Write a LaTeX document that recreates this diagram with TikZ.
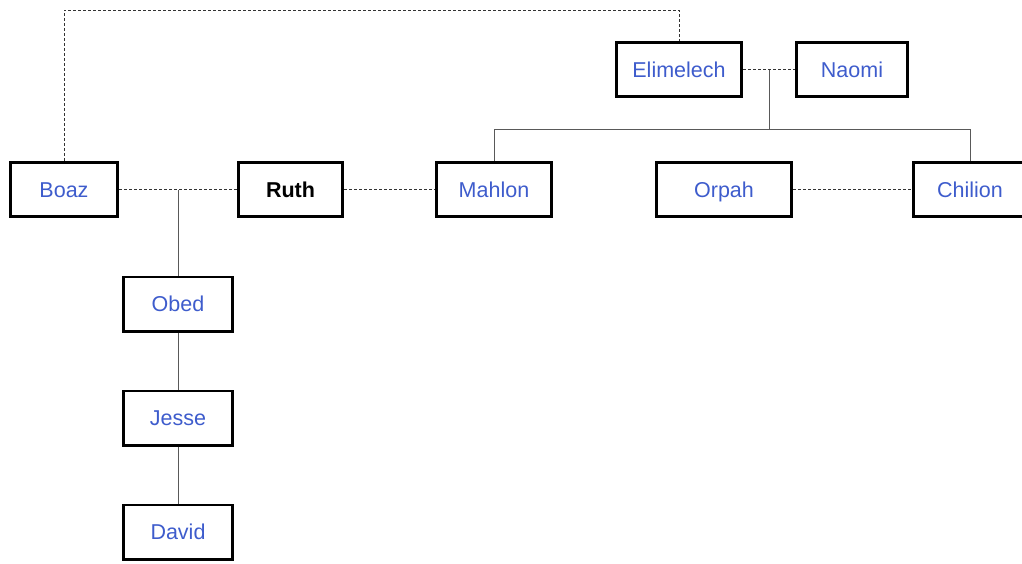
\documentclass[tikz,border=0pt]{standalone}
\usepackage{fontspec}
\setmainfont{Liberation Sans}
\usepackage{tikz}

\definecolor{namecol}{RGB}{62,92,204}
\tikzset{
  person/.style={draw, line width=2.8pt, minimum height=54.2pt, inner sep=0pt,
    text height=15.6pt, text depth=0pt,
    text=namecol, font=\fontsize{21.5}{24}\selectfont},
  spouse/.style={draw=black!80, line width=0.8pt, dash pattern=on 3pt off 2pt},
  child/.style={draw=black!65, line width=0.9pt}
}

\begin{document}
\begin{tikzpicture}[x=1pt, y=-1pt]
      \useasboundingbox (0, 0) rectangle (1022, 563);
      % first generation
      \node[person, minimum width=125.2pt] (elimelech) at (679, 69.5) {Elimelech};
      \node[person, minimum width=111.2pt] (naomi) at (852, 69.5) {Naomi};
      % second generation
      \node[person, minimum width=107.2pt] (boaz) at (64, 189.5) {Boaz};
      \node[person, minimum width=104.2pt, text=black, font=\fontsize{21.5}{24}\selectfont\bfseries] (ruth) at (290.5, 189.5) {Ruth};
      \node[person, minimum width=115.2pt] (mahlon) at (494, 189.5) {Mahlon};
      \node[person, minimum width=135.2pt] (orpah) at (724, 189.5) {Orpah};
      \node[person, minimum width=113.2pt] (chilion) at (970, 189.5) {Chilion};
      % descendants
      \node[person, minimum width=109.2pt] (obed) at (178, 304) {Obed};
      \node[person, minimum width=109.2pt] (jesse) at (178, 418) {Jesse};
      \node[person, minimum width=109.2pt] (david) at (178, 532) {David};

      \coordinate (top) at (679, 10);
      \coordinate (br) at (178, 189.5);
      \coordinate (en) at (769, 69.5);
      \coordinate (sons) at (769, 129.5);

      \draw[spouse] (boaz.north) |- (top) -- (elimelech.north);
      \draw[spouse] (elimelech) -- (naomi);
      \draw[spouse] (boaz) -- (ruth);
      \draw[spouse] (ruth) -- (mahlon);
      \draw[spouse] (orpah) -- (chilion);
      \draw[child] (en) -- (sons);
      \draw[child] (mahlon.north) |- (sons) -| (chilion.north);
      \draw[child] (br) -- (obed);
      \draw[child] (obed) -- (jesse);
      \draw[child] (jesse) -- (david);
    \end{tikzpicture}
\end{document}
